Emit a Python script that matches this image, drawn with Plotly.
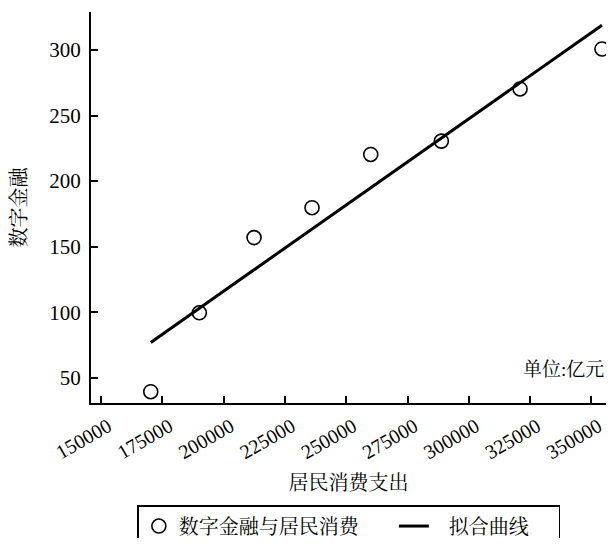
import numpy as np
import plotly.graph_objects as go

# Data
consumption = [170270, 190090, 212400, 236050, 260000, 288800, 320900, 354300]  # 居民消费支出
digital_fin = [39.3, 99.5, 156.9, 179.7, 220.3, 230.5, 270.3, 300.8]  # 数字金融
x_ticks = [150000, 175000, 200000, 225000, 250000, 275000, 300000, 325000, 350000]
y_ticks = [50, 100, 150, 200, 250, 300]

slope, intercept = np.polyfit(consumption, digital_fin, 1)
fit_x = [min(consumption), max(consumption)]
fit_y = [slope * v + intercept for v in fit_x]

FONT = "Liberation Serif, Times New Roman, Noto Serif CJK SC, Noto Sans CJK SC, serif"
NB = "\u00a0"

fig = go.Figure()
fig.add_trace(go.Scatter(
    x=consumption, y=digital_fin, mode="markers",
    name="数字金融与居民消费" + NB * 6,
    cliponaxis=False,
    marker=dict(symbol="circle-open", size=14, color="black", line=dict(width=1.6, color="black")),
))
fig.add_trace(go.Scatter(
    x=fit_x, y=fit_y, mode="lines", name=NB * 3 + "拟合曲线" + NB * 5, cliponaxis=False,
    line=dict(color="black", width=3),
))

fig.update_layout(
    width=598, height=530,
    margin=dict(l=83, r=0, t=4, b=135, autoexpand=False),
    paper_bgcolor="white", plot_bgcolor="white",
    font=dict(family=FONT, size=20, color="black"),
    hovermode=False,
    legend=dict(
        orientation="h", x=0.09, xanchor="left", y=-0.261, yanchor="top",
        bordercolor="black", borderwidth=1.5, font=dict(size=20),
    ),
    annotations=[dict(
        text="单位:亿元", xref="paper", yref="paper", x=1.0, y=0.085,
        xanchor="right", yanchor="middle", showarrow=False, font=dict(size=19),
    )],
)
fig.update_xaxes(
    range=[145900, 355950], tickvals=x_ticks, ticktext=[str(v) for v in x_ticks],
    tickangle=-30, ticks="inside", ticklen=7, tickwidth=1.5, tickcolor="black",
    showline=True, linecolor="black", linewidth=2, showgrid=False, zeroline=False,
    tickfont=dict(size=20), automargin=False, ticklabelshift=7, ticklabelstandoff=2,
    ticklabeloverflow="allow",
    title=dict(text="居民消费支出", standoff=14, font=dict(size=20)),
)
fig.update_yaxes(
    range=[30.7, 329], tickvals=y_ticks, ticks="inside", ticklen=7, tickwidth=1.5,
    tickcolor="black", showline=True, linecolor="black", linewidth=2,
    showgrid=False, zeroline=False, tickfont=dict(size=21), automargin=False,
    ticklabelstandoff=4,
    title=dict(text="数字金融", standoff=20, font=dict(size=20)),
)

fig.write_html("out.html")
